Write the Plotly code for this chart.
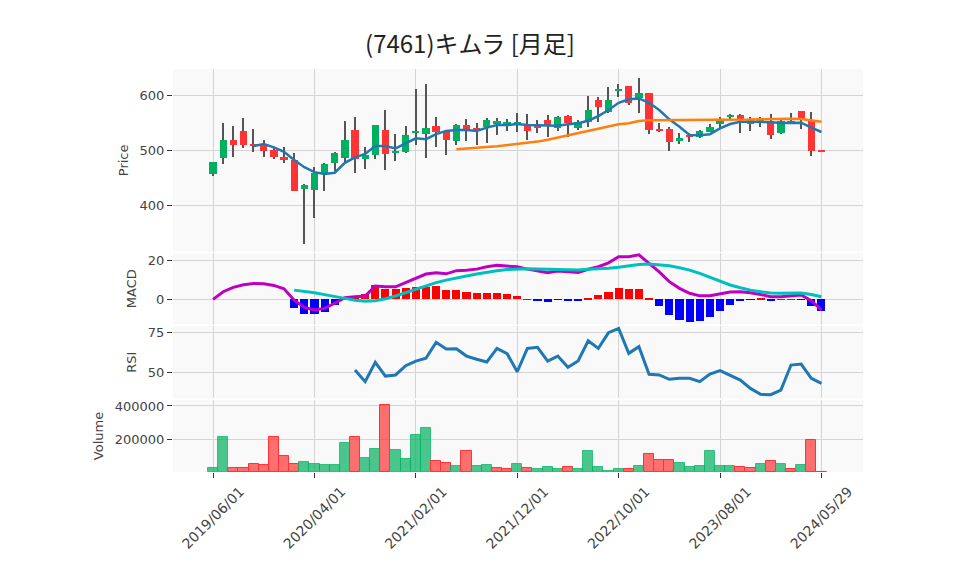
import pandas as pd
import plotly.graph_objects as go
from plotly.subplots import make_subplots

# ---------------- data ----------------
dates = pd.date_range("2019-06-01", periods=60, freq="MS").strftime("%Y/%m/%d").tolist() + ["2024/05/29"]

open_ = [458, 487, 519, 536, 512, 511, 502, 489, 483, 431,
         428, 460, 477, 487, 537, 485, 492, 538, 496, 498,
         533, 530, 544, 536, 518, 547, 542, 543, 548, 549,
         550, 547, 548, 556, 542, 563, 542, 553, 592, 570,
         609, 617, 596, 604, 540, 539, 518, 528.5, 524, 534,
         548, 561, 565, 556, 552, 554, 533, 554, 572, 556, 500]
high = [480, 551, 545, 559, 539, 519, 506, 507, 496, 439,
        471, 477, 498, 554, 562, 507, 547, 574, 530, 545,
        612, 621, 562, 537, 548, 557, 551, 559, 559, 557,
        568, 566, 556, 565, 563, 565, 556, 599.5, 597, 615,
        621, 618, 633, 605, 550, 543.6, 531.6, 532.7, 537.6, 548.5,
        562, 566, 566, 560.7, 562, 566.7, 555, 568, 573, 571, 500]
low = [454, 475, 488, 504, 497, 489, 484, 478, 427, 330,
       377, 427, 463, 480, 459, 466, 484, 465, 482, 496,
       510, 487, 507, 493, 510, 518, 510, 514, 528, 536,
       534.5, 519.5, 531.6, 525, 536, 525, 537.6, 543.6, 552.7, 568,
       598, 583, 568, 530.4, 534.5, 499.5, 511.6, 515, 522.5, 533.5,
       540.7, 557, 531.6, 536, 543.6, 520.7, 529.8, 548, 539, 491, 499]
close = [479, 520, 511, 510, 508, 500, 489, 483, 427, 437,
         460, 476, 495, 519, 484, 493, 547, 494, 500, 528,
         536, 542, 534, 519, 547, 535, 537, 555, 554, 551,
         552, 536, 542, 545, 561, 550, 553, 574, 579, 593,
         613, 586, 604, 538, 537, 515, 523, 525, 536, 543,
         557, 565, 555, 548, 556, 528, 554, 552, 556, 500, 499]
volume = [26000, 214000, 24000, 24000, 48500, 42300, 214000, 97500, 48500, 60700,
          48500, 42300, 42300, 177000, 214000, 85000, 140000, 404000, 134000, 79000,
          226000, 269000, 67000, 54600, 36000, 128000, 36000, 42300, 24000, 17000,
          48500, 24000, 17800, 30000, 17800, 30000, 17800, 128000, 30000, 9800,
          17800, 17800, 36000, 108000, 73000, 73000, 54600, 30000, 36000, 128000,
          36000, 36000, 30000, 24000, 48500, 67000, 48500, 17800, 42300, 196000, 3000]
ma_short = [None] * 4 + [
    508.5, 512, 506, 498, 483, 470, 461, 457.6, 460, 478,
    488, 494, 508.5, 508.5, 504, 513, 522.5, 521, 530, 536,
    537.6, 537.6, 536, 542, 546.7, 546.7, 548.5, 546.7, 546, 545,
    545.5, 548, 550, 554.5, 563, 574, 587, 593.5, 595, 587,
    574, 557, 543.6, 528.5, 528, 530, 540.7, 548.5, 552.7, 552.7,
    552.7, 551.6, 550.4, 550.4, 551, 542, 534]
ma_long = [None] * 24 + [
    502.5, 503.5, 505, 506.5, 508, 510, 512, 514, 516.5, 520,
    524, 528, 531.5, 535, 540, 543.6, 548, 550, 554, 555.5,
    555.5, 555.5, 555.5, 555.5, 556, 556, 556, 556.5, 556.5, 556.5,
    557, 557.5, 558, 558, 557.5, 555, 552.7]
macd = [0, 3.9, 6.1, 7.4, 8.1, 7.9, 7.1, 5.4, -0.4, -4.1,
        -5.4, -4.6, -2.0, 0.8, 1.3, 1.7, 6.8, 6.4, 6.4, 8.5,
        11.0, 12.9, 13.5, 13.0, 14.6, 14.8, 15.4, 16.6, 17.3, 17.0,
        16.6, 15.4, 14.6, 13.5, 14.4, 14.0, 13.7, 15.3, 16.6, 18.6,
        21.7, 21.7, 22.7, 18.3, 14.0, 9.0, 5.6, 3.1, 1.8, 1.8,
        2.7, 3.7, 3.9, 3.4, 2.5, 1.3, 1.3, 1.7, 2.2, -0.7, -5.4]
signal = [None] * 8 + [
    4.7, 4.2, 3.4, 2.4, 1.3, 0.5, -0.4, -0.9, -0.7, 0.3,
    1.7, 3.4, 5.1, 6.8, 8.5, 9.8, 11.0, 11.9, 12.9, 13.9,
    14.6, 15.2, 15.5, 15.6, 15.4, 15.3, 15.3, 15.1, 14.9, 15.3,
    15.4, 15.8, 16.3, 17.1, 17.8, 18.0, 17.6, 17.1, 16.1, 14.9,
    13.2, 11.2, 9.0, 7.3, 5.9, 4.7, 3.9, 3.2, 3.1, 3.1,
    3.2, 2.5, 1.3]
hist = [None] * 8 + [
    -4.6, -7.6, -7.6, -6.3, -2.9, 0.3, 1.0, 2.5, 7.3, 5.1,
    5.1, 5.9, 6.1, 6.1, 6.8, 4.7, 4.7, 3.7, 3.4, 3.4,
    3.4, 2.5, 1.7, 0.1, -0.7, -1.2, -0.3, -0.7, -0.7, 0.5,
    2.2, 3.9, 5.6, 5.3, 5.3, 0.2, -3.2, -8.0, -10.5, -11.4,
    -11.0, -8.8, -5.9, -2.9, -0.7, -0.3, 0.5, -0.7, 0.1, 0.1,
    -0.1, -3.2, -5.8]
rsi = [None] * 14 + [
    51.7, 44.4, 56.5, 47.9, 48.6, 54.4, 57.3, 59.0, 69.0, 64.8,
    65.0, 60.4, 58.4, 56.7, 65.2, 61.9, 50.6, 65.2, 65.9, 57.3,
    60.4, 53.4, 57.3, 70.0, 65.2, 75.0, 77.7, 62.1, 66.3, 49.0,
    48.6, 45.9, 46.5, 46.5, 44.4, 49.2, 51.3, 48.6, 45.4, 40.2,
    36.5, 36.3, 39.2, 54.8, 55.4, 46.5, 43.4]
tick_idx = [0, 10, 20, 30, 40, 50, 60]
tick_labels = [dates[i] for i in tick_idx]

# ---------------- styling ----------------
UP = "#00B060"
DOWN = "#FF3333"
UP_V = "rgba(0,176,96,0.7)"
DOWN_V = "rgba(255,51,51,0.7)"
GRID = "#D4D4D4"
BG = "#F9F9F9"
FONT = "DejaVu Sans, Verdana, sans-serif"

W, H = 958, 575
OFF = 8  # page body margin
ML, MR, MT, MB = 173 - OFF, 95 + OFF, 69 - OFF, 103 + OFF
PH = H - MT - MB


def yd(p):
    # p: pixel row on the screen
    return round((H - MB - (p - OFF)) / PH, 4)


fig = make_subplots(rows=4, cols=1, shared_xaxes=True, vertical_spacing=0.005)

# candle wicks and bodies (bars drawn from OHLC values)
body_base = [min(o, c) for o, c in zip(open_, close)]
body_h = [max(abs(c - o), 1.6) for o, c in zip(open_, close)]
body_col = [UP if c > o else DOWN for o, c in zip(open_, close)]
fig.add_trace(go.Bar(x=dates, y=[h - l for h, l in zip(high, low)], base=low,
                     width=0.13, marker=dict(color="#555555", line=dict(width=0)),
                     hoverinfo="skip", showlegend=False), row=1, col=1)
fig.add_trace(go.Bar(x=dates, y=body_h, base=body_base, width=0.72,
                     marker=dict(color=body_col, line=dict(width=0)),
                     showlegend=False), row=1, col=1)
fig.add_trace(go.Scatter(x=dates, y=ma_short, mode="lines",
                         line=dict(color="#1f77b4", width=2.5), showlegend=False), row=1, col=1)
fig.add_trace(go.Scatter(x=dates, y=ma_long, mode="lines",
                         line=dict(color="#ff7f0e", width=2.5), showlegend=False), row=1, col=1)

# MACD
hist_col = [("#FF0000" if (v is not None and v >= 0) else "#0000FF") for v in hist]
fig.add_trace(go.Bar(x=dates, y=hist, width=0.8, marker=dict(color=hist_col, line=dict(width=0)),
                     showlegend=False), row=2, col=1)
fig.add_trace(go.Scatter(x=dates, y=macd, mode="lines",
                         line=dict(color="#C000C0", width=3), showlegend=False), row=2, col=1)
fig.add_trace(go.Scatter(x=dates, y=signal, mode="lines",
                         line=dict(color="#00BFBF", width=3), showlegend=False), row=2, col=1)

# RSI
fig.add_trace(go.Scatter(x=dates, y=rsi, mode="lines",
                         line=dict(color="#1f77b4", width=3), showlegend=False), row=3, col=1)

# Volume
vol_up = [True] + [close[i] > close[i - 1] for i in range(1, len(close))]
fig.add_trace(go.Bar(x=dates, y=volume, width=1.0,
                     marker=dict(color=[UP_V if u else DOWN_V for u in vol_up],
                                 line=dict(color=[UP_V if u else DOWN for u in vol_up], width=1)),
                     showlegend=False), row=4, col=1)

fig.update_layout(
    width=W, height=H, barmode="overlay",
    margin=dict(l=ML, r=MR, t=MT, b=MB, autoexpand=False),
    paper_bgcolor="white", plot_bgcolor=BG,
    font=dict(family=FONT, size=13, color="#444444"),
    title=dict(text="(7461)キムラ [月足]", x=(470 - OFF) / W, xref="container", xanchor="center",
               y=1 - (45 - OFF) / H, yref="container", yanchor="middle", automargin=False,
               font=dict(family="Noto Sans CJK JP", size=24, color="#222222")),
    showlegend=False,
    bargap=0,
)

xcommon = dict(type="category", range=[-3.95, 64.1], tickmode="array", tickvals=tick_labels,
               ticktext=tick_labels, showgrid=True, gridcolor=GRID, gridwidth=1,
               zeroline=False, showline=False, automargin=False)
for r in range(1, 5):
    fig.update_xaxes(**xcommon, row=r, col=1)
fig.update_xaxes(ticks="outside", ticklen=5, tickcolor="#333", tickangle=-45,
                 tickfont=dict(size=14), ticklabelshift=27, row=4, col=1)

ycommon = dict(showgrid=True, gridcolor=GRID, gridwidth=1, zeroline=False, showline=False,
               ticks="outside", ticklen=5, tickcolor="#333", tickfont=dict(size=13),
               title_font=dict(size=13), title_standoff=8, automargin=False, tickformat="d")
fig.update_yaxes(**ycommon, title_text="Price", range=[316.4, 648.5], dtick=100,
                 domain=[yd(251.7), 1], row=1, col=1)
fig.update_yaxes(**ycommon, title_text="MACD", range=[-12.8, 23.6], dtick=20,
                 domain=[yd(324.5), yd(253)], row=2, col=1)
fig.update_yaxes(**ycommon, title_text="RSI", range=[33.9, 79.2], dtick=25,
                 domain=[yd(398.5), yd(326)], row=3, col=1)
fig.update_yaxes(**ycommon, title_text="Volume", range=[1000, 436000], dtick=200000,
                 domain=[0, yd(400)], row=4, col=1)

fig.write_html("out.html")
